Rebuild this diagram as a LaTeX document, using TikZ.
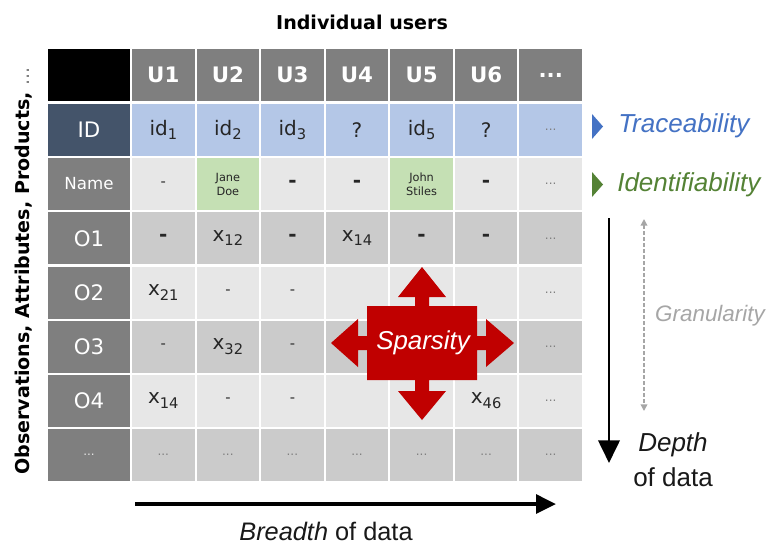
\documentclass[tikz,border=0pt]{standalone}
\usepackage{fontspec}
\setmainfont{DejaVu Sans}
\newfontfamily\arialf{Liberation Sans}
\usetikzlibrary{arrows.meta}
\definecolor{hdr}{HTML}{7F7F7F}
\definecolor{navy}{HTML}{44546A}
\definecolor{idrow}{HTML}{B4C7E7}
\definecolor{lrow}{HTML}{E7E7E7}
\definecolor{drow}{HTML}{CBCBCB}
\definecolor{grn}{HTML}{C5E0B4}
\definecolor{spred}{HTML}{C00000}
\definecolor{tblue}{HTML}{4472C4}
\definecolor{tgreen}{HTML}{548235}
\definecolor{txt}{HTML}{262626}
\definecolor{granc}{HTML}{A6A6A6}
\newcommand\sbs[1]{\raisebox{-0.4ex}{\fontsize{11}{11}\selectfont #1}}
\newcommand\dd{{\color{hdr}\fontsize{9}{9}\selectfont ...}}
\newcommand\bd{\textbf{-}}
\begin{document}
\begin{tikzpicture}[x=0.75pt,y=-0.75pt,
  cell/.style={minimum width=47pt, minimum height=39pt, inner sep=0pt, text=txt,
    font=\fontsize{15}{18}\selectfont, align=center},
  lab/.style={cell, minimum width=61.5pt, fill=hdr, text=white},
  hd/.style={cell, fill=hdr, text=white, font=\bfseries\fontsize{16}{19}\selectfont},
  lc/.style={cell, fill=lrow},
  dc/.style={cell, fill=drow},
  ic/.style={cell, fill=idrow},
  gc/.style={cell, fill=grn, font=\fontsize{8.5}{10.5}\selectfont},
  side/.style={inner sep=0pt, anchor=west, font=\arialf\itshape\fontsize{19.5}{23}\selectfont},
  axis/.style={inner sep=0pt, font=\arialf\fontsize{19.5}{23}\selectfont, text=black!90}
]
\useasboundingbox (0,0) rectangle (768,547);
\fill[white] (0,0) rectangle (768,547);

% header row
\node[lab, fill=black] (h0) at (89,75) {};
\node[hd] (h1) at (163.3,75) {U1};
\node[hd] (h2) at (227.9,75) {U2};
\node[hd] (h3) at (292.4,75) {U3};
\node[hd] (h4) at (357.0,75) {U4};
\node[hd] (h5) at (421.6,75) {U5};
\node[hd] (h6) at (486.1,75) {U6};
\node[hd] (h7) at (550.7,75) {...};

% ID row
\node[lab, fill=navy, font=\fontsize{16}{19}\selectfont] (i0) at (89,130) {ID};
\node[ic] (i1) at (163.3,130) {id\sbs{1}};
\node[ic] (i2) at (227.9,130) {id\sbs{2}};
\node[ic] (i3) at (292.4,130) {id\sbs{3}};
\node[ic] (i4) at (357.0,130) {?};
\node[ic] (i5) at (421.6,130) {id\sbs{5}};
\node[ic] (i6) at (486.1,130) {?};
\node[ic] (i7) at (550.7,130) {\dd};

% Name row
\node[lab, font=\fontsize{12.5}{15}\selectfont] (n0) at (89,184) {Name};
\node[lc] (n1) at (163.3,184) {\fontsize{11}{11}\selectfont -};
\node[gc] (n2) at (227.9,184) {Jane\\Doe};
\node[lc] (n3) at (292.4,184) {\bd};
\node[lc] (n4) at (357.0,184) {\bd};
\node[gc] (n5) at (421.6,184) {John\\Stiles};
\node[lc] (n6) at (486.1,184) {\bd};
\node[lc] (n7) at (550.7,184) {\dd};

% O1
\node[lab, font=\fontsize{16}{19}\selectfont] (a0) at (89,238.3) {O1};
\node[dc] (a1) at (163.3,238.3) {\bd};
\node[dc] (a2) at (227.9,238.3) {x\sbs{12}};
\node[dc] (a3) at (292.4,238.3) {\bd};
\node[dc] (a4) at (357.0,238.3) {x\sbs{14}};
\node[dc] (a5) at (421.6,238.3) {\bd};
\node[dc] (a6) at (486.1,238.3) {\bd};
\node[dc] (a7) at (550.7,238.3) {\dd};

% O2
\node[lab, font=\fontsize{16}{19}\selectfont] (b0) at (89,292.5) {O2};
\node[lc] (b1) at (163.3,292.5) {x\sbs{21}};
\node[lc] (b2) at (227.9,292.5) {\fontsize{11}{11}\selectfont -};
\node[lc] (b3) at (292.4,292.5) {\fontsize{11}{11}\selectfont -};
\node[lc] (b4) at (357.0,292.5) {};
\node[lc] (b5) at (421.6,292.5) {};
\node[lc] (b6) at (486.1,292.5) {};
\node[lc] (b7) at (550.7,292.5) {\dd};

% O3
\node[lab, font=\fontsize{16}{19}\selectfont] (c0) at (89,346.5) {O3};
\node[dc] (c1) at (163.3,346.5) {\fontsize{11}{11}\selectfont -};
\node[dc] (c2) at (227.9,346.5) {x\sbs{32}};
\node[dc] (c3) at (292.4,346.5) {\fontsize{11}{11}\selectfont -};
\node[dc] (c4) at (357.0,346.5) {};
\node[dc] (c5) at (421.6,346.5) {};
\node[dc] (c6) at (486.1,346.5) {};
\node[dc] (c7) at (550.7,346.5) {\dd};

% O4
\node[lab, font=\fontsize{16}{19}\selectfont] (d0) at (89,400.5) {O4};
\node[lc] (d1) at (163.3,400.5) {x\sbs{14}};
\node[lc] (d2) at (227.9,400.5) {\fontsize{11}{11}\selectfont -};
\node[lc] (d3) at (292.4,400.5) {\fontsize{11}{11}\selectfont -};
\node[lc] (d4) at (357.0,400.5) {};
\node[lc] (d5) at (421.6,400.5) {};
\node[lc] (d6) at (486.1,400.5) {x\sbs{46}};
\node[lc] (d7) at (550.7,400.5) {\dd};

% ... row
\node[lab] (e0) at (89,455) {{\color{white!80!hdr}\fontsize{9}{9}\selectfont ...}};
\node[dc] (e1) at (163.3,455) {\dd};
\node[dc] (e2) at (227.9,455) {\dd};
\node[dc] (e3) at (292.4,455) {\dd};
\node[dc] (e4) at (357.0,455) {\dd};
\node[dc] (e5) at (421.6,455) {\dd};
\node[dc] (e6) at (486.1,455) {\dd};
\node[dc] (e7) at (550.7,455) {\dd};

% Sparsity cross
\fill[spred] (422,267) -- (446,297) -- (429,297) -- (429,306) -- (477,306) -- (477,336)
  -- (486,336) -- (486,319) -- (514,343) -- (486,367) -- (486,350) -- (477,350)
  -- (477,380) -- (429,380) -- (429,391) -- (446,391) -- (422,420) -- (398,391)
  -- (415,391) -- (415,380) -- (367,380) -- (367,350) -- (358,350) -- (358,367)
  -- (331,343) -- (358,319) -- (358,336) -- (367,336) -- (367,306) -- (415,306)
  -- (415,297) -- (398,297) -- cycle;
\node[inner sep=0pt, text=white, font=\arialf\itshape\fontsize{19.4}{23}\selectfont] (sp) at (423,343) {Sparsity};

% titles
\node[inner sep=0pt, font=\bfseries\fontsize{14.3}{17}\selectfont] (title) at (362,22) {Individual users};
\node[inner sep=0pt, rotate=90, font=\bfseries\fontsize{14.3}{17}\selectfont] (side) at (24,271) {Observations, Attributes, Products, {\mdseries\color{hdr}...}};

% right side labels
\fill[tblue] (592,114) -- (592,139) -- (603,126.5) -- cycle;
\node[side, text=tblue] (trace) at (618,126) {Traceability};
\fill[tgreen] (592,172) -- (592,197) -- (603,184.5) -- cycle;
\node[side, text=tgreen] (ident) at (617,185) {Identifiability};

% depth arrow
\coordinate (dtop) at (609,218);
\coordinate (dbot) at (609,463);
\draw[line width=2.1pt, -{Triangle[width=16pt,length=17pt]}] (dtop) -- (dbot);
\node[axis] (depth) at (673,445) {\itshape Depth};
\node[axis] (ofd) at (673,477) {of data};

% granularity
\coordinate (gtop) at (644,219);
\coordinate (gbot) at (644,411);
\draw[granc, line width=1.1pt, dash pattern=on 3pt off 1.5pt,
  {Triangle[width=5pt,length=5pt]}-{Triangle[width=5pt,length=5pt]}] (gtop) -- (gbot);
\node[inner sep=0pt, text=granc, font=\arialf\itshape\fontsize{16.8}{20}\selectfont] (gran) at (710,316) {Granularity};

% breadth arrow
\coordinate (bl) at (135,504);
\coordinate (br) at (556,504);
\draw[line width=2.8pt, -{Triangle[width=14pt,length=15pt]}] (bl) -- (br);
\node[axis, font=\arialf\fontsize{19}{22}\selectfont] (breadth) at (326,531) {{\itshape Breadth} of data};
\end{tikzpicture}
\end{document}
